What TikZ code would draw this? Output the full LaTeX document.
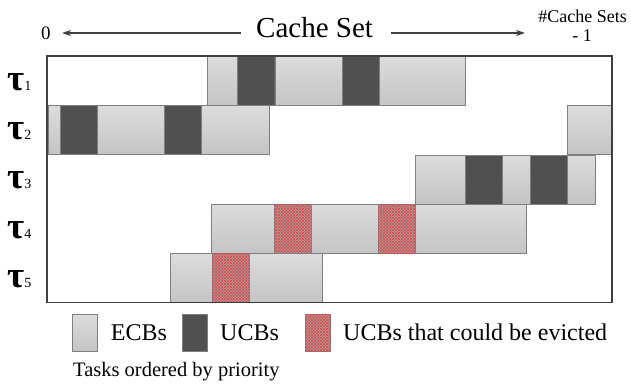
\documentclass[tikz,border=0pt]{standalone}
\usepackage{fontspec}
\setmainfont{Liberation Serif}
\newfontfamily\tnr{Liberation Serif}
\usetikzlibrary{arrows.meta}
\usetikzlibrary{patterns}

\definecolor{ecbtop}{HTML}{DCDCDC}
\definecolor{ecbbot}{HTML}{C4C4C4}
\definecolor{ucbfill}{HTML}{505050}
\definecolor{edge}{HTML}{7F7F7F}
\definecolor{framecol}{HTML}{404040}
\definecolor{evgray}{HTML}{A6A6A6}
\definecolor{evred}{HTML}{E04848}

\begin{document}
\begin{tikzpicture}[x=1pt, y=-1pt,
        block/.style={rectangle, draw=edge, line width=0.8pt, anchor=north west, inner sep=0pt, minimum height=49pt},
        ecb/.style={block, top color=ecbtop, bottom color=ecbbot},
        ucb/.style={block, fill=ucbfill},
        evict/.style={block, fill=evgray, postaction={pattern=north east lines, pattern color=evred}, postaction={pattern=north west lines, pattern color=evred}},
        txt/.style={inner sep=0pt, anchor=base west},
        tau/.style={txt, font=\tnr\bfseries\fontsize{37}{37}\selectfont},
        arr/.style={-{Stealth[length=9pt, width=6pt]}, line width=1.3pt, draw=framecol}]
        
        \useasboundingbox (0,0) rectangle (631,386);
        
        \node[txt, font=\tnr\fontsize{29}{29}\selectfont] (title) at (256,37.7) {Cache Set};
        \node[txt, font=\tnr\fontsize{19}{19}\selectfont] (zero) at (41,39) {0};
        \node[inner sep=0pt, anchor=base, font=\tnr\fontsize{18}{18}\selectfont] (last) at (582.5,22.7) {\#Cache Sets};
        \node[inner sep=0pt, anchor=base, font=\tnr\fontsize{18}{18}\selectfont] (minus) at (582,41.7) {- 1};
        \coordinate (left) at (62,33);
        \coordinate (right) at (525,33);
        \draw[arr] ([xshift=-15pt, yshift=4.7pt]title.base west) -- (left);
        \draw[arr] ([xshift=18pt, yshift=4.7pt]title.base east) -- (right);
        
        \node[tau] (t1) at (7,90) {τ{\mdseries\fontsize{14}{14}\selectfont 1}};
        \node[tau] (t2) at (7,139.4) {τ{\mdseries\fontsize{14}{14}\selectfont 2}};
        \node[tau] (t3) at (7,188.7) {τ{\mdseries\fontsize{14}{14}\selectfont 3}};
        \node[tau] (t4) at (7,238) {τ{\mdseries\fontsize{14}{14}\selectfont 4}};
        \node[tau] (t5) at (7,287.4) {τ{\mdseries\fontsize{14}{14}\selectfont 5}};
        
        \node[ecb, minimum width=30pt] (11) at (207,56) {};
        \node[ucb, minimum width=37.5pt] (12) at (237,56) {};
        \node[ecb, minimum width=67.5pt] (13) at (274.5,56) {};
        \node[ucb, minimum width=37pt] (14) at (342,56) {};
        \node[ecb, minimum width=86pt] (15) at (379,56) {};
        
        \node[ecb, minimum width=12pt] (21) at (48,105.3) {};
        \node[ucb, minimum width=37pt] (22) at (60,105.3) {};
        \node[ecb, minimum width=67pt] (23) at (97,105.3) {};
        \node[ucb, minimum width=37pt] (24) at (164,105.3) {};
        \node[ecb, minimum width=68pt] (25) at (201,105.3) {};
        \node[ecb, minimum width=45pt] (26) at (567,105.3) {};
        
        \node[ecb, minimum width=50pt] (31) at (415,154.6) {};
        \node[ucb, minimum width=37pt] (32) at (465,154.6) {};
        \node[ecb, minimum width=28pt] (33) at (502,154.6) {};
        \node[ucb, minimum width=37pt] (34) at (530,154.6) {};
        \node[ecb, minimum width=28pt] (35) at (567,154.6) {};
        
        \node[ecb, minimum width=63pt] (41) at (211,203.9) {};
        \node[evict, minimum width=37pt] (42) at (274,203.9) {};
        \node[ecb, minimum width=67pt] (43) at (311,203.9) {};
        \node[evict, minimum width=37pt] (44) at (378,203.9) {};
        \node[ecb, minimum width=111pt] (45) at (415,203.9) {};
        
        \node[ecb, minimum width=42pt] (51) at (170,253.2) {};
        \node[evict, minimum width=37pt] (52) at (212,253.2) {};
        \node[ecb, minimum width=73pt] (53) at (249,253.2) {};
        
        \draw[framecol, line width=1.6pt] (47,56) rectangle (612,302.5);
        
        \node[ecb, minimum width=25pt, minimum height=37pt] (k1) at (72,314) {};
        \node[ucb, minimum width=25pt, minimum height=37pt] (k2) at (182,314) {};
        \node[evict, minimum width=25pt, minimum height=37pt] (k3) at (305,314) {};
        \node[txt, font=\tnr\fontsize{24}{24}\selectfont] (l1) at (110.7,340) {ECBs};
        \node[txt, font=\tnr\fontsize{24}{24}\selectfont] (l2) at (220,340) {UCBs};
        \node[txt, font=\tnr\fontsize{24}{24}\selectfont] (l3) at (343,340) {UCBs that could be evicted};
        \node[txt, font=\tnr\fontsize{20.5}{20.5}\selectfont] (prio) at (73,376) {Tasks ordered by priority};
        
\end{tikzpicture}
\end{document}
